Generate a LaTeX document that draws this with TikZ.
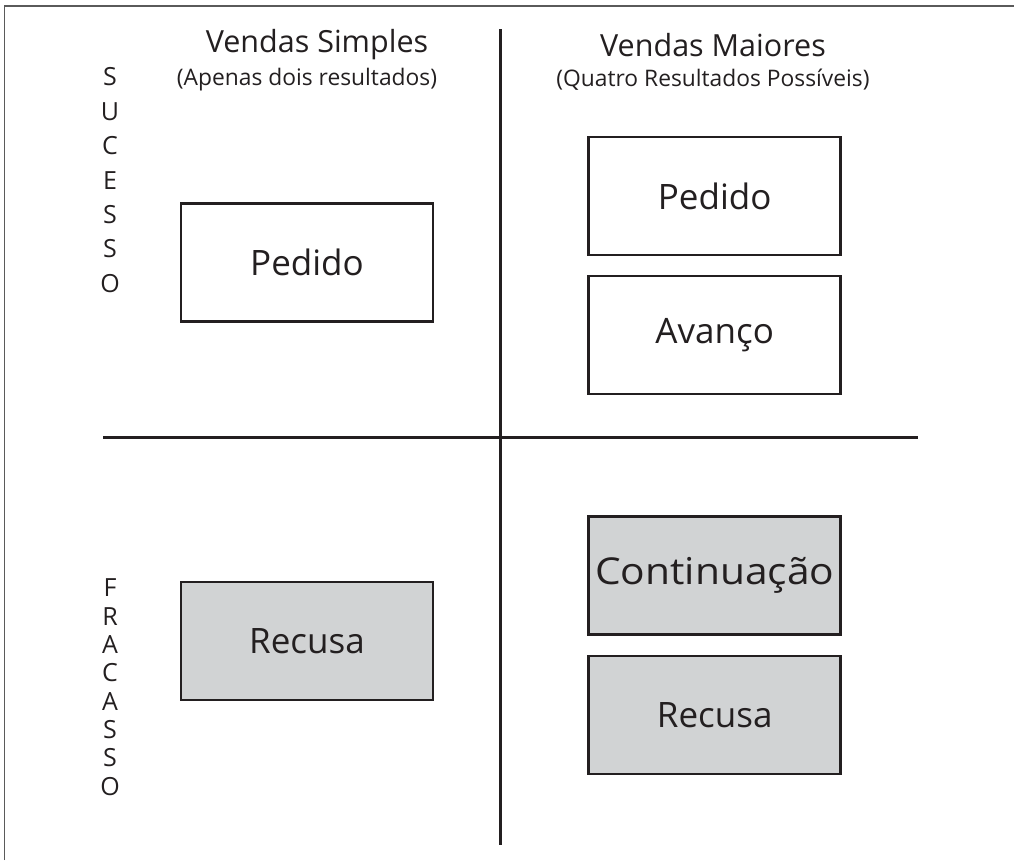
\documentclass[tikz,border=0pt]{standalone}
\usepackage{fontspec}
\setmainfont{Open Sans}
\definecolor{ink}{HTML}{231F20}
\definecolor{boxgray}{HTML}{D1D3D4}
\definecolor{framegray}{HTML}{5A5A5A}
\begin{document}
\begin{tikzpicture}[x=1pt,y=-1pt,
  outcome/.style={draw=ink, line width=2.6pt, minimum width=252pt, minimum height=118pt,
    inner sep=0pt, font=\fontsize{35}{42}\selectfont, text=ink},
  fail/.style={outcome, fill=boxgray},
  succ/.style={outcome, fill=white},
  divider/.style={draw=ink, line width=3pt},
  head/.style={font=\fontsize{30.5}{36}\selectfont, text=ink, inner sep=0pt},
  sub/.style={font=\fontsize{22.8}{27}\selectfont, text=ink, inner sep=0pt},
  letter/.style={font=\fontsize{25}{30}\selectfont, text=ink, inner sep=0pt}]
\useasboundingbox (0,0) rectangle (1014,860);
% frame
\coordinate (fbl) at (4.5,860);
\coordinate (ftl) at (4.5,6);
\coordinate (ftr) at (1014,6);
\draw[framegray, line width=1.3pt] (fbl) -- (ftl) -- (ftr);
% dividers
\coordinate (vt) at (500.5,29);
\coordinate (vb) at (500.5,845);
\coordinate (hl) at (103,437);
\coordinate (hr) at (918,437);
\draw[divider] (vt) -- (vb);
\draw[divider] (hl) -- (hr);
% headings
\node[head] (h1) at (317,45) {Vendas Simples};
\node[sub] (s1) at (307,80) {(Apenas dois resultados)};
\node[head] (h2) at (713,45) {Vendas Maiores};
\node[sub] (s2) at (713,80) {(Quatro Resultados Possíveis)};
% vertical words
\foreach \ch [count=\i from 0] in {S,U,C,E,S,S,O}
  \node[letter] (suc\i) at (110,77+34.4*\i) {\ch};
\foreach \ch [count=\i from 0] in {F,R,A,C,A,S,S,O}
  \node[letter] (fra\i) at (110,588+28.3*\i) {\ch};
% boxes
\node[succ] (lped) at (307,262.5) {Pedido};
\node[fail] (lrec) at (307,641) {Recusa};
\node[succ] (rped) at (714.7,196) {Pedido};
\node[succ] (rav) at (714.7,335) {Avanço};
\node[fail] (rcont) at (714.7,575.5) {\fontsize{37}{44}\selectfont\scalebox{1.1}[1]{Continuação}};
\node[fail] (rrec) at (714.7,715) {Recusa};
\end{tikzpicture}
\end{document}
